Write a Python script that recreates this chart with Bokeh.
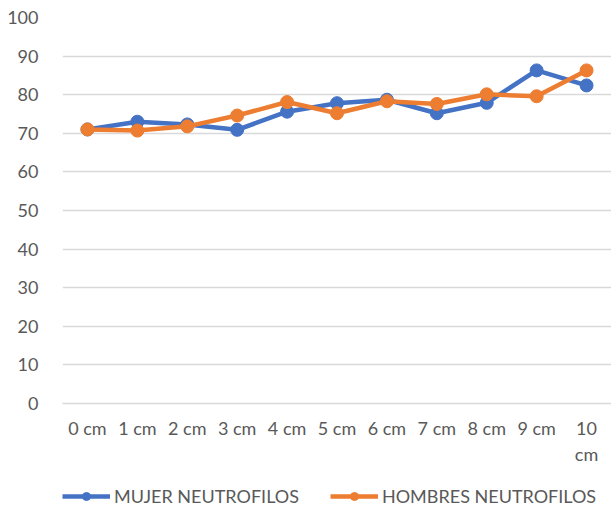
from bokeh.plotting import figure
from bokeh.models import Legend, LegendItem, FixedTicker, Range1d
from bokeh.layouts import column
from bokeh.embed import file_html
from bokeh.resources import INLINE

categories = ["0 cm", "1 cm", "2 cm", "3 cm", "4 cm", "5 cm", "6 cm", "7 cm", "8 cm", "9 cm", "10\ncm"]
mujer = [71.0, 73.0, 72.3, 70.9, 75.6, 77.8, 78.7, 75.2, 77.9, 86.3, 82.4]
hombres = [71.0, 70.7, 71.8, 74.6, 78.1, 75.2, 78.3, 77.6, 80.1, 79.6, 86.3]
series_names = ["MUJER NEUTROFILOS", "HOMBRES NEUTROFILOS"]
y_ticks = list(range(0, 101, 10))

xs = list(range(len(categories)))
FONT = "Lato"
GRAY = "#595959"
BLUE = "#4472C4"
ORANGE = "#ED7D31"

p = figure(width=611, height=470, output_backend="svg", toolbar_location=None,
           frame_width=549, frame_height=386,
           x_range=Range1d(-0.5, len(categories) - 0.5), y_range=Range1d(0, 100),
           min_border_left=62, min_border_right=0, min_border_top=17, min_border_bottom=0)
p.outline_line_color = None
p.background_fill_color = "white"

p.line(xs, mujer, line_color=BLUE, line_width=4.5)
p.scatter(xs, mujer, size=13, fill_color=BLUE, line_color=BLUE)
p.line(xs, hombres, line_color=ORANGE, line_width=4.5)
p.scatter(xs, hombres, size=13, fill_color=ORANGE, line_color=ORANGE)

p.xaxis.ticker = FixedTicker(ticks=xs)
p.xaxis.major_label_overrides = {i: c for i, c in enumerate(categories)}
p.xaxis.major_tick_line_color = None
p.xaxis.minor_tick_line_color = None
p.xaxis.axis_line_color = "#D9D9D9"
p.xaxis.axis_line_width = 1.5
p.xaxis.major_label_standoff = 7
p.xgrid.grid_line_color = None

p.yaxis.ticker = FixedTicker(ticks=y_ticks)
p.yaxis.axis_line_color = None
p.yaxis.major_tick_line_color = None
p.yaxis.minor_tick_line_color = None
p.yaxis.major_label_standoff = 18
p.ygrid.grid_line_color = "#D9D9D9"
p.ygrid.grid_line_width = 1.5

for ax in (p.xaxis, p.yaxis):
    ax.major_label_text_font = FONT
    ax.major_label_text_font_size = "18px"
    ax.major_label_text_color = GRAY

# legend strip below the chart (series drawn out of view, only the legend shows)
pl = figure(width=611, height=40, output_backend="svg", toolbar_location=None,
            min_border=0, x_range=Range1d(0, 1), y_range=Range1d(500, 600))
pl.axis.visible = False
pl.grid.grid_line_color = None
pl.outline_line_color = None
l1 = pl.line(xs, mujer, line_color=BLUE, line_width=4.5)
s1 = pl.scatter(xs, mujer, size=13, fill_color=BLUE, line_color=BLUE)
l2 = pl.line(xs, hombres, line_color=ORANGE, line_width=4.5)
s2 = pl.scatter(xs, hombres, size=13, fill_color=ORANGE, line_color=ORANGE)

legend = Legend(items=[LegendItem(label=series_names[0], renderers=[l1, s1]),
                       LegendItem(label=series_names[1], renderers=[l2, s2])],
                orientation="horizontal", location=(0, 0),
                glyph_width=48, glyph_height=20, spacing=31, label_standoff=4,
                label_text_font=FONT, label_text_font_size="18px", label_text_color=GRAY,
                border_line_color=None, background_fill_alpha=0, margin=0, padding=0)
pl.add_layout(legend, "center")

layout = column(p, pl, spacing=0)
open("out.html", "w").write(file_html(layout, INLINE))
